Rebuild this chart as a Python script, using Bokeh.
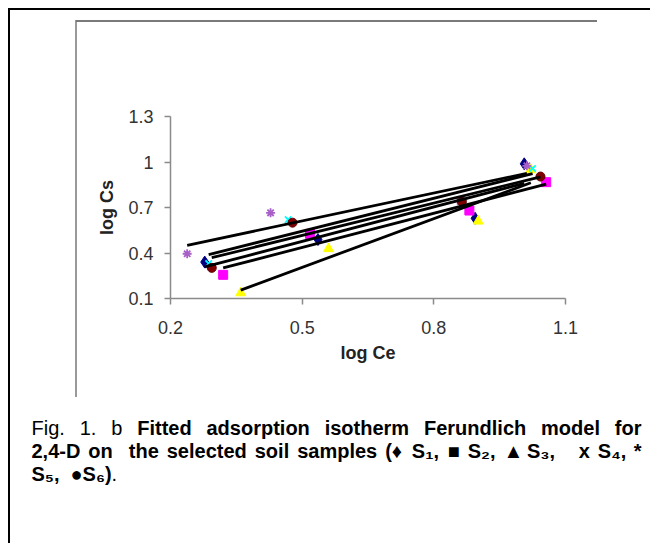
import numpy as np
from bokeh.plotting import figure
from bokeh.layouts import column, row
from bokeh.models import Range1d, FixedTicker, ColumnDataSource
from bokeh.core.properties import value
from bokeh.embed import file_html
from bokeh.resources import INLINE

# ---- data ----
x_ticks = [0.2, 0.5, 0.8, 1.1]
y_ticks = [0.1, 0.4, 0.7, 1.0, 1.3]
x_label = "log Ce"
y_label = "log Cs"

s1_x = [0.278, 0.536, 0.894, 1.006]
s1_y = [0.340, 0.489, 0.629, 0.988]
s2_x = [0.320, 0.518, 0.881, 1.056]
s2_y = [0.256, 0.526, 0.680, 0.867]
s3_x = [0.360, 0.560, 0.901, 1.021]
s3_y = [0.137, 0.428, 0.610, 0.948]
s4_x = [0.287, 0.468, 0.866, 1.025]
s4_y = [0.330, 0.620, 0.735, 0.957]
s5_x = [0.238, 0.428, 0.860, 1.012]
s5_y = [0.395, 0.665, 0.740, 0.975]
s6_x = [0.294, 0.478, 0.864, 1.043]
s6_y = [0.302, 0.600, 0.739, 0.904]

series = [
    ("S1", s1_x, s1_y, "diamond", "#000080", 12),
    ("S2", s2_x, s2_y, "square", "#FF00FF", 9),
    ("S3", s3_x, s3_y, "triangle", "#FFFF00", 10),
    ("S4", s4_x, s4_y, "x", "#00FFFF", 9),
    ("S5", s5_x, s5_y, "asterisk", "#A860C8", 9),
    ("S6", s6_x, s6_y, "circle", "#800000", 9),
]

# caption: lines of (word, style, spaces before next word)
cap_line1 = [("Fig.", "normal", 1), ("1.", "normal", 1), ("b", "normal", 1),
             ("Fitted", "bold", 1), ("adsorption", "bold", 1), ("isotherm", "bold", 1),
             ("Ferundlich", "bold", 1), ("model", "bold", 1), ("for", "bold", 0)]
cap_line2 = [("2,4-D", "bold", 1), ("on", "bold", 2), ("the", "bold", 1),
             ("selected", "bold", 1), ("soil", "bold", 1), ("samples", "bold", 1),
             ("(\u2666", "bold", 1), ("S\u2081,", "bold", 1), ("\u25a0", "bold", 1),
             ("S\u2082,", "bold", 1), ("\u25b2", "bold", 1), ("S\u2083,", "bold", 3),
             ("x", "bold", 1), ("S\u2084,", "bold", 1), ("*", "bold", 0)]
cap_line3 = [("S\u2085,", "bold", 2), ("\u25cfS\u2086)", "bold", 0), (".", "normal", 0)]

FONT = "Liberation Sans"
W, H = 650, 543
CHART_H = 390
CAP_H = H - CHART_H
CAP_FS = 20

# Arial/Liberation advance widths (1/1000 em), used to justify the caption words
REG = {"F": 611, "i": 222, "g": 556, ".": 278, "1": 556, "b": 556, " ": 278}
BOLD = {"a": 556, "b": 611, "c": 556, "d": 611, "e": 556, "f": 333, "h": 611, "i": 278,
        "l": 278, "m": 889, "n": 611, "o": 611, "p": 611, "r": 389, "s": 556, "t": 333,
        "u": 611, "x": 556, "F": 611, "D": 722, "S": 667, ",": 278, ".": 278, "-": 333,
        "(": 333, ")": 333, "*": 389, " ": 278, "2": 556, "4": 556,
        "\u2666": 600, "\u25a0": 600, "\u25b2": 770, "\u25cf": 600,
        "\u2081": 450, "\u2082": 450, "\u2083": 450, "\u2084": 450, "\u2085": 450, "\u2086": 450}


def wpx(word, style):
    tab = BOLD if style == "bold" else REG
    return sum(tab.get(c, 556) for c in word) * CAP_FS / 1000.0


def layout_line(words, x0, x1=None):
    widths = [wpx(w, s) for w, s, _ in words]
    nsp = sum(n for _, _, n in words[:-1])
    if x1 is None:
        sp = 278 * CAP_FS / 1000.0
    else:
        sp = (x1 - x0 - sum(widths)) / nsp
    xs, x = [], x0
    for (w, s, n), ww in zip(words, widths):
        xs.append(x)
        x += ww + n * sp
    return xs


# ---- chart ----
p = figure(width=W, height=CHART_H, output_backend="svg", toolbar_location=None,
           x_range=Range1d(0.2, 1.1), y_range=Range1d(0.1, 1.3),
           min_border_left=170, min_border_right=W - 565,
           min_border_top=116, min_border_bottom=CHART_H - 298)
p.outline_line_color = None
p.grid.visible = False
p.background_fill_color = "white"
p.border_fill_alpha = 0

for ax in (p.xaxis[0], p.yaxis[0]):
    ax.axis_line_color = "#8a8a8a"
    ax.axis_line_width = 1.5
    ax.major_tick_line_color = "#8a8a8a"
    ax.major_tick_line_width = 1.5
    ax.major_tick_out = 6
    ax.major_tick_in = 0
    ax.minor_tick_out = 0
    ax.minor_tick_in = 0
    ax.major_label_text_font = FONT
    ax.major_label_text_font_size = "18px"
    ax.major_label_text_color = "#333333"
    ax.axis_label_text_font = FONT
    ax.axis_label_text_font_size = "18px"
    ax.axis_label_text_font_style = "bold"
    ax.axis_label_text_color = "#222222"

p.xaxis.ticker = FixedTicker(ticks=x_ticks)
p.yaxis.ticker = FixedTicker(ticks=y_ticks)
p.yaxis.major_label_overrides = {1: "1"}
p.xaxis.major_label_standoff = 16
p.yaxis.major_label_standoff = 11
p.xaxis.axis_label = x_label
p.yaxis.axis_label = y_label
p.xaxis.axis_label_standoff = 6
p.yaxis.axis_label_standoff = 8

for name, xs, ys, marker, color, size in series:
    if marker in ("x", "asterisk"):
        p.scatter(xs, ys, marker=marker, size=size, line_color=color, line_width=1.8)
    else:
        p.scatter(xs, ys, marker=marker, size=size, fill_color=color,
                  line_color=color if marker != "circle" else "#5a0000", line_width=1)

for name, xs, ys, marker, color, size in series:
    k, b = np.polyfit(xs, ys, 1)
    xx = np.array([min(xs), max(xs)])
    p.line(xx, k * xx + b, line_color="black", line_width=2.8)

# ---- caption ----
cap = figure(width=W, height=CAP_H, output_backend="svg", toolbar_location=None,
             x_range=Range1d(0, W), y_range=Range1d(CAP_H, 0),
             x_axis_type=None, y_axis_type=None, min_border=0,
             min_border_left=0, min_border_right=0, min_border_top=0, min_border_bottom=0)
cap.outline_line_color = None
cap.background_fill_alpha = 0
cap.border_fill_alpha = 0

items = []
for words, yy, x1 in ((cap_line1, 427 - CHART_H, 641), (cap_line2, 450 - CHART_H, 641),
                      (cap_line3, 473 - CHART_H, None)):
    xs = layout_line(words, 31, x1)
    for (w, s, _), xx in zip(words, xs):
        items.append((w, xx, yy, s))

for style in ("normal", "bold"):
    sel = [it for it in items if it[3] == style]
    src = ColumnDataSource(dict(x=[s[1] for s in sel], y=[s[2] for s in sel],
                                text=[s[0] for s in sel]))
    cap.text(x="x", y="y", text="text", source=src, text_font=value(FONT),
             text_font_size=value("%dpx" % CAP_FS), text_font_style=value(style),
             text_color="black", text_align=value("left"), text_baseline=value("middle"))

# page frame lines (outer black border, grey chart-area border) as CSS backgrounds
frame_css = {
    "background-image": ("linear-gradient(#000,#000), linear-gradient(#000,#000), "
                         "linear-gradient(#7a7a7a,#7a7a7a), linear-gradient(#9a9a9a,#9a9a9a)"),
    "background-size": "642px 2px, 2px 535px, 521px 2px, 2px 377px",
    "background-position": "8px 8px, 8px 8px, 76px 20px, 75px 20px",
    "background-repeat": "no-repeat",
    "background-color": "white",
}
layout = column(row(p), cap, styles=frame_css)
open("out.html", "w").write(file_html(layout, INLINE))
